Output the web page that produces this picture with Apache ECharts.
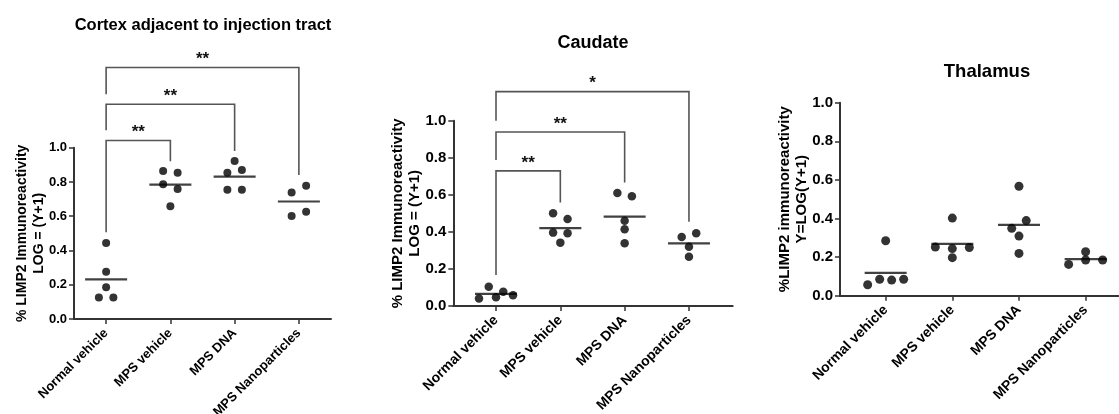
<!DOCTYPE html>
<html>
<head>
<meta charset="utf-8">
<script src="https://cdn.jsdelivr.net/npm/echarts@6/dist/echarts.min.js"></script>
<style>
html, body { margin: 0; padding: 0; background: #fff; }
#chart { width: 1119px; height: 414px; }
</style>
</head>
<body>
<div id="chart"></div>
<script type="text/javascript">
var groups = ['Normal vehicle', 'MPS vehicle', 'MPS DNA', 'MPS Nanoparticles'];

// cortex adjacent to injection tract
var cortexNormal = [0.444, 0.276, 0.185, 0.126, 0.126];
var cortexMpsVehicle = [0.864, 0.854, 0.786, 0.759, 0.658];
var cortexMpsDna = [0.922, 0.854, 0.870, 0.755, 0.755];
var cortexMpsNano = [0.739, 0.778, 0.601, 0.626];
// [compared group, bar height, left leg end, right leg end]
var cortexBrackets = [[1, 1.042, 0.506, 0.921], [2, 1.254, 1.102, 0.981], [3, 1.468, 1.312, 0.840]];
var cortexStars = ['**', '**', '**'];

// caudate
var caudateNormal = [0.104, 0.077, 0.040, 0.047, 0.058];
var caudateMpsVehicle = [0.500, 0.469, 0.396, 0.392, 0.342];
var caudateMpsDna = [0.610, 0.592, 0.460, 0.414, 0.338];
var caudateMpsNano = [0.372, 0.392, 0.320, 0.266];
var caudateBrackets = [[1, 0.729, 0.167, 0.558], [2, 0.939, 0.788, 0.667], [3, 1.157, 1.000, 0.455]];
var caudateStars = ['**', '**', '*'];

// thalamus
var thalamusNormal = [0.285, 0.057, 0.085, 0.081, 0.085];
var thalamusMpsVehicle = [0.402, 0.252, 0.244, 0.250, 0.197];
var thalamusMpsDna = [0.567, 0.349, 0.389, 0.309, 0.219];
var thalamusMpsNano = [0.162, 0.228, 0.185, 0.185];

var font = '"Liberation Sans", Arial, sans-serif';

var panels = [
  {
    title: 'Cortex adjacent to injection tract', titleSize: 16.5, titleX: 203, titleY: 17,
    yName: '% LIMP2 Immunoreactivity\nLOG = (Y+1)', nameSize: 14, nameGap: 27,
    tickSize: 13, labelSize: 13, dot: 8,
    grid: { left: 74, top: 147.7, width: 257, height: 171.3 }, xMin: -0.5, xMax: 3.5,
    values: [cortexNormal, cortexMpsVehicle, cortexMpsDna, cortexMpsNano],
    brackets: cortexBrackets, stars: cortexStars
  },
  {
    title: 'Caudate', titleSize: 18, titleX: 593, titleY: 34,
    yName: '% LIMP2 Immunoreactivity\nLOG = (Y+1)', nameSize: 15, nameGap: 29.5,
    tickSize: 15, labelSize: 14, dot: 8.5,
    grid: { left: 453.3, top: 120.7, width: 279.4, height: 185.3 }, xMin: -0.664, xMax: 3.68,
    values: [caudateNormal, caudateMpsVehicle, caudateMpsDna, caudateMpsNano],
    brackets: caudateBrackets, stars: caudateStars
  },
  {
    title: 'Thalamus', titleSize: 18.5, titleX: 987, titleY: 62,
    yName: '%LIMP2 immunoreactivity\nY=LOG(Y+1)', nameSize: 15, nameGap: 29,
    tickSize: 15, labelSize: 14, dot: 9,
    grid: { left: 840, top: 102.7, width: 278.3, height: 193 }, xMin: -0.685, xMax: 3.49,
    values: [thalamusNormal, thalamusMpsVehicle, thalamusMpsDna, thalamusMpsNano],
    brackets: [], stars: []
  }
];

// spread points that sit at nearly the same height side by side (like Prism's scatter)
function spreadGroup(vals, idx, pxPerY, pxPerX) {
  var order = vals.map(function (v, i) { return i; }).sort(function (a, b) { return vals[b] - vals[a]; });
  var rows = [], cur = null;
  order.forEach(function (i) {
    if (cur && (vals[cur[0]] - vals[i]) * pxPerY < 8) cur.push(i);
    else { cur = [i]; rows.push(cur); }
  });
  var out = [];
  rows.forEach(function (r) {
    r.sort(function (a, b) { return a - b; });
    var n = r.length;
    var step = n >= 4 ? 12 : (n == 3 ? 17 : 14.5);
    r.forEach(function (i, k) {
      out.push([idx + (k - (n - 1) / 2) * step / pxPerX, vals[i]]);
    });
  });
  return out;
}

function mean(a) {
  var s = 0;
  a.forEach(function (v) { s += v; });
  return s / a.length;
}

var option = {
  animation: false,
  backgroundColor: '#fff',
  textStyle: { fontFamily: font },
  title: [],
  grid: [],
  xAxis: [],
  yAxis: [],
  series: []
};

panels.forEach(function (p, pi) {
  option.title.push({
    text: p.title, left: p.titleX, top: p.titleY, textAlign: 'center', padding: 0,
    textStyle: { fontFamily: font, fontSize: p.titleSize, fontWeight: 'bold', color: '#000' }
  });
  option.grid.push({
    left: p.grid.left, top: p.grid.top, width: p.grid.width, height: p.grid.height,
    outerBoundsMode: 'none', containLabel: false
  });
  option.xAxis.push({
    type: 'value', gridIndex: pi, min: p.xMin, max: p.xMax,
    splitLine: { show: false },
    axisLine: { show: true, onZero: false, lineStyle: { color: '#333', width: 2 } },
    axisTick: { show: true, customValues: [0, 1, 2, 3], length: 5, lineStyle: { color: '#333', width: 1.5 } },
    axisLabel: {
      customValues: [0, 1, 2, 3], rotate: 45, margin: 12,
      fontFamily: font, fontSize: p.labelSize, fontWeight: 'bold', color: '#000',
      formatter: function (v) { return groups[Math.round(v)]; }
    }
  });
  option.yAxis.push({
    type: 'value', gridIndex: pi, min: 0, max: 1, interval: 0.2,
    name: p.yName, nameLocation: 'middle', nameGap: p.nameGap, nameMoveOverlap: false,
    nameTextStyle: { fontFamily: font, fontSize: p.nameSize, fontWeight: 'bold', color: '#000', lineHeight: p.nameSize + 2.5, align: 'center' },
    splitLine: { show: false },
    axisLine: { show: true, onZero: false, lineStyle: { color: '#333', width: 2 } },
    axisTick: { show: true, length: 5, lineStyle: { color: '#333', width: 1.5 } },
    axisLabel: {
      margin: 7, fontFamily: font, fontSize: p.tickSize, fontWeight: 'bold', color: '#000',
      formatter: function (v) { return v.toFixed(1); }
    }
  });

  var pxPerY = p.grid.height;
  var pxPerX = p.grid.width / (p.xMax - p.xMin);
  var dots = [];
  p.values.forEach(function (vals, gi) {
    dots = dots.concat(spreadGroup(vals, gi, pxPerY, pxPerX));
  });
  option.series.push({
    type: 'scatter', xAxisIndex: pi, yAxisIndex: pi,
    symbol: 'circle', symbolSize: p.dot,
    itemStyle: { color: '#000' },
    data: dots, z: 3
  });
  option.series.push({
    type: 'scatter', xAxisIndex: pi, yAxisIndex: pi,
    symbol: 'rect', symbolSize: [42, 2.2],
    itemStyle: { color: '#111' },
    data: p.values.map(function (vals, gi) { return [gi, mean(vals)]; }), z: 2
  });
  if (p.brackets.length) {
    option.series.push({
      type: 'custom', xAxisIndex: pi, yAxisIndex: pi, clip: false,
      data: p.brackets,
      renderItem: function (params, api) {
        var t = api.value(0), top = api.value(1), lb = api.value(2), rb = api.value(3);
        var a = api.coord([0, lb]), b = api.coord([0, top]), c = api.coord([t, top]), d = api.coord([t, rb]);
        return {
          type: 'group',
          children: [
            { type: 'polyline', shape: { points: [a, b, c, d] }, style: { stroke: '#555', lineWidth: 1.6, fill: null } },
            { type: 'text', x: (b[0] + c[0]) / 2, y: b[1] - 8,
              style: { text: p.stars[params.dataIndex], font: 'bold 17px ' + font, fill: '#111', align: 'center', verticalAlign: 'middle' } }
          ]
        };
      }
    });
  }
});

var myChart = echarts.init(document.getElementById('chart'));
myChart.setOption(option);
</script>
</body>
</html>
